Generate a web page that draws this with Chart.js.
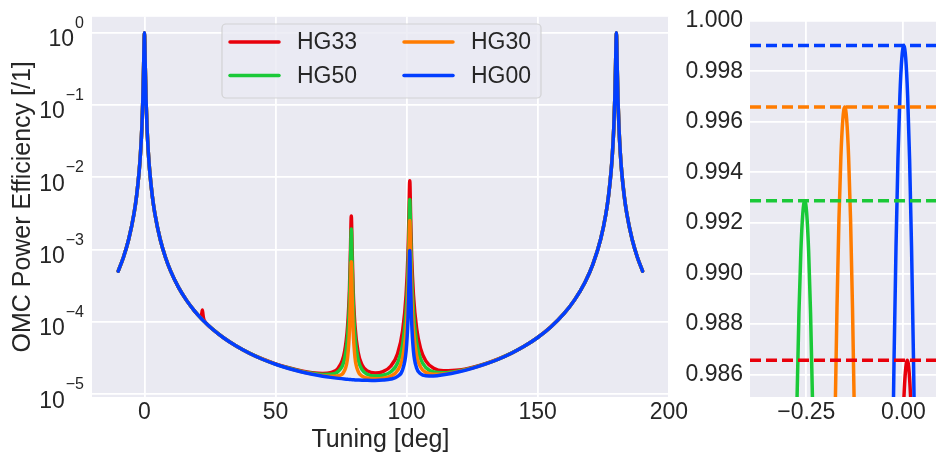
<!DOCTYPE html>
<html>
<head>
<meta charset="utf-8">
<script src="https://cdn.jsdelivr.net/npm/chart.js@4/dist/chart.umd.min.js"></script>
<style>
  html, body { margin: 0; padding: 0; background: #ffffff; width: 936px; height: 457px; overflow: hidden; }
  #wide { position: absolute; left: 0; top: 0; }
  #zoom { position: absolute; left: 680px; top: 0; }
</style>
</head>
<body>
<canvas id="wide" width="690" height="457"></canvas>
<canvas id="zoom" width="256" height="457"></canvas>
<script>
// ---- series ----
const seriesNames  = ['HG33', 'HG50', 'HG30', 'HG00'];
const seriesColors = ['#E8000B', '#1AC938', '#FF7C00', '#023EFF'];
// peak OMC power efficiency of each mode (dashed reference lines in the zoom panel)
const peakEfficiency = [0.98656, 0.99288, 0.99659, 0.99902];

// ---- full tuning scan [deg] ----
const tuning = [
  -10, -8, -6, -4, -3, -2, -1.5, -1, -0.6, -0.3, -0.15, 0, 0.15, 0.3, 0.6, 1, 1.5, 2, 3, 4, 6, 8, 10, 13, 16, 19,
  21, 21.6, 21.85, 22.1, 22.35, 22.6, 23.5,
  26, 30, 35, 40, 45, 50, 55, 60,
  64, 68, 71, 74, 76.3, 77.5, 78.2, 78.6, 78.9, 79.2, 79.6, 80.3, 81.5, 83, 85, 88, 91, 94, 96.5, 98.5,
  99.8, 100.5, 100.9, 101.2, 101.5, 101.9, 102.6, 103.8, 105.3, 107.3, 110.3, 114,
  120, 125, 130,
  135, 140, 145, 150, 155, 160, 164, 168, 171, 174, 176, 177, 178, 178.5, 179, 179.4, 179.7, 179.85,
  180, 180.15, 180.3, 180.6, 181, 181.5, 182, 183, 184, 186, 188, 190
];

const effHG33 = [
  5.02e-4, 7.82e-4, 1.385e-3, 3.104e-3, 5.50e-3, 1.229e-2, 2.164e-2, 4.74e-2, 0.1214, 0.356, 0.689, 0.9866, 0.689, 0.356, 0.1214, 4.74e-2, 2.164e-2, 1.229e-2, 5.50e-3, 3.104e-3, 1.385e-3, 7.82e-4, 5.02e-4, 2.993e-4, 1.994e-4, 1.429e-4,
  1.197e-4, 1.189e-4, 1.284e-4, 1.45e-4, 1.238e-4, 1.097e-4, 9.64e-5,
  7.9e-5, 6.08e-5, 4.63e-5, 3.69e-5, 3.06e-5, 2.62e-5, 2.31e-5, 2.09e-5,
  1.979e-5, 1.930e-5, 1.980e-5, 2.306e-5, 3.80e-5, 8.85e-5, 2.84e-4, 1.049e-3, 2.917e-3, 1.049e-3, 2.841e-4, 8.85e-5, 3.79e-5, 2.533e-5, 2.089e-5, 1.951e-5, 2.046e-5, 2.446e-5, 3.587e-5, 7.62e-5,
  2.36e-4, 8.37e-4, 3.184e-3, 8.916e-3, 3.185e-3, 8.37e-4, 2.365e-4, 8.14e-5, 4.28e-5, 2.874e-5, 2.276e-5, 2.103e-5,
  2.15e-5, 2.34e-5, 2.64e-5,
  3.07e-5, 3.69e-5, 4.62e-5, 6.07e-5, 8.49e-5, 1.295e-4, 1.994e-4, 3.504e-4, 6.19e-4, 1.385e-3, 3.104e-3, 5.50e-3, 1.229e-2, 2.164e-2, 4.74e-2, 0.1214, 0.356, 0.689,
  0.9866, 0.689, 0.356, 0.1214, 4.74e-2, 2.164e-2, 1.229e-2, 5.50e-3, 3.104e-3, 1.385e-3, 7.82e-4, 5.02e-4
];

const effHG50 = [
  5.02e-4, 7.82e-4, 1.385e-3, 3.104e-3, 5.50e-3, 1.229e-2, 2.164e-2, 4.74e-2, 0.1214, 0.356, 0.689, 0.9929, 0.689, 0.356, 0.1214, 4.74e-2, 2.164e-2, 1.229e-2, 5.50e-3, 3.104e-3, 1.385e-3, 7.82e-4, 5.02e-4, 2.993e-4, 1.994e-4, 1.429e-4,
  1.180e-4, 1.118e-4, 1.094e-4, 1.070e-4, 1.048e-4, 1.026e-4, 9.53e-5,
  7.89e-5, 6.07e-5, 4.62e-5, 3.68e-5, 3.045e-5, 2.60e-5, 2.29e-5, 2.06e-5,
  1.940e-5, 1.867e-5, 1.876e-5, 2.070e-5, 3.036e-5, 6.34e-5, 1.915e-4, 6.93e-4, 1.916e-3, 6.93e-4, 1.914e-4, 6.32e-5, 3.003e-5, 2.175e-5, 1.877e-5, 1.774e-5, 1.819e-5, 2.037e-5, 2.669e-5, 4.897e-5,
  1.371e-4, 4.677e-4, 1.760e-3, 4.916e-3, 1.760e-3, 4.678e-4, 1.374e-4, 5.205e-5, 3.092e-5, 2.332e-5, 2.029e-5, 1.975e-5,
  2.09e-5, 2.30e-5, 2.61e-5,
  3.05e-5, 3.68e-5, 4.61e-5, 6.06e-5, 8.48e-5, 1.295e-4, 1.994e-4, 3.504e-4, 6.19e-4, 1.385e-3, 3.104e-3, 5.50e-3, 1.229e-2, 2.164e-2, 4.74e-2, 0.1214, 0.356, 0.689,
  0.9929, 0.689, 0.356, 0.1214, 4.74e-2, 2.164e-2, 1.229e-2, 5.50e-3, 3.104e-3, 1.385e-3, 7.82e-4, 5.02e-4
];

const effHG30 = [
  5.02e-4, 7.82e-4, 1.385e-3, 3.104e-3, 5.50e-3, 1.229e-2, 2.164e-2, 4.74e-2, 0.1214, 0.356, 0.689, 0.9966, 0.689, 0.356, 0.1214, 4.74e-2, 2.164e-2, 1.229e-2, 5.50e-3, 3.104e-3, 1.385e-3, 7.82e-4, 5.02e-4, 2.993e-4, 1.994e-4, 1.429e-4,
  1.180e-4, 1.118e-4, 1.094e-4, 1.070e-4, 1.048e-4, 1.026e-4, 9.53e-5,
  7.88e-5, 6.06e-5, 4.61e-5, 3.67e-5, 3.035e-5, 2.59e-5, 2.27e-5, 2.03e-5,
  1.902e-5, 1.803e-5, 1.763e-5, 1.795e-5, 2.108e-5, 3.247e-5, 7.69e-5, 2.510e-4, 6.76e-4, 2.510e-4, 7.68e-5, 3.223e-5, 2.064e-5, 1.772e-5, 1.664e-5, 1.630e-5, 1.660e-5, 1.779e-5, 2.109e-5, 3.253e-5,
  7.758e-5, 2.462e-4, 9.058e-4, 2.516e-3, 9.058e-4, 2.464e-4, 7.787e-5, 3.441e-5, 2.373e-5, 2.001e-5, 1.877e-5, 1.895e-5,
  2.06e-5, 2.28e-5, 2.60e-5,
  3.04e-5, 3.67e-5, 4.605e-5, 6.06e-5, 8.48e-5, 1.295e-4, 1.994e-4, 3.504e-4, 6.19e-4, 1.385e-3, 3.104e-3, 5.50e-3, 1.229e-2, 2.164e-2, 4.74e-2, 0.1214, 0.356, 0.689,
  0.9966, 0.689, 0.356, 0.1214, 4.74e-2, 2.164e-2, 1.229e-2, 5.50e-3, 3.104e-3, 1.385e-3, 7.82e-4, 5.02e-4
];

const effHG00 = [
  5.02e-4, 7.82e-4, 1.385e-3, 3.104e-3, 5.50e-3, 1.229e-2, 2.164e-2, 4.74e-2, 0.1214, 0.356, 0.689, 0.999, 0.689, 0.356, 0.1214, 4.74e-2, 2.164e-2, 1.229e-2, 5.50e-3, 3.104e-3, 1.385e-3, 7.82e-4, 5.02e-4, 2.993e-4, 1.994e-4, 1.429e-4,
  1.180e-4, 1.118e-4, 1.094e-4, 1.070e-4, 1.048e-4, 1.026e-4, 9.53e-5,
  7.88e-5, 6.06e-5, 4.605e-5, 3.667e-5, 3.030e-5, 2.582e-5, 2.258e-5, 2.020e-5,
  1.880e-5, 1.767e-5, 1.701e-5, 1.647e-5, 1.613e-5, 1.599e-5, 1.590e-5, 1.587e-5, 1.583e-5, 1.580e-5, 1.577e-5, 1.570e-5, 1.562e-5, 1.553e-5, 1.546e-5, 1.545e-5, 1.562e-5, 1.615e-5, 1.749e-5, 2.193e-5,
  3.911e-5, 1.033e-4, 3.539e-4, 9.657e-4, 3.540e-4, 1.034e-4, 3.942e-5, 2.301e-5, 1.910e-5, 1.789e-5, 1.779e-5, 1.844e-5,
  2.03e-5, 2.27e-5, 2.59e-5,
  3.030e-5, 3.667e-5, 4.605e-5, 6.06e-5, 8.48e-5, 1.295e-4, 1.994e-4, 3.504e-4, 6.19e-4, 1.385e-3, 3.104e-3, 5.50e-3, 1.229e-2, 2.164e-2, 4.74e-2, 0.1214, 0.356, 0.689,
  0.999, 0.689, 0.356, 0.1214, 4.74e-2, 2.164e-2, 1.229e-2, 5.50e-3, 3.104e-3, 1.385e-3, 7.82e-4, 5.02e-4
];

// ---- close-up of the fundamental resonance ----
const zoomTuningHG33 = [-0.010, -0.005, 0.000, 0.005, 0.010, 0.015, 0.020, 0.025, 0.030];
const zoomEffHG33    = [0.97869, 0.98212, 0.98458, 0.98606, 0.98656, 0.98606, 0.98458, 0.98212, 0.97869];

const zoomTuningHG50 = [-0.284, -0.279, -0.274, -0.269, -0.264, -0.259, -0.254, -0.249, -0.244, -0.239, -0.234, -0.229, -0.224];
const zoomEffHG50    = [0.97524, 0.98057, 0.98496, 0.98841, 0.99089, 0.99238, 0.99288, 0.99238, 0.99089, 0.98841, 0.98496, 0.98057, 0.97524];

const zoomTuningHG30 = [-0.186, -0.181, -0.176, -0.171, -0.166, -0.161, -0.156, -0.151, -0.146, -0.141, -0.136, -0.131, -0.126, -0.121, -0.116];
const zoomEffHG30    = [0.97263, 0.97888, 0.98423, 0.98862, 0.99211, 0.99459, 0.99609, 0.99659, 0.99609, 0.99459, 0.99211, 0.98862, 0.98423, 0.97888, 0.97263];

const zoomTuningHG00 = [-0.034, -0.029, -0.024, -0.019, -0.014, -0.009, -0.004, 0.001, 0.006, 0.011, 0.016, 0.021, 0.026, 0.031, 0.036];
const zoomEffHG00    = [0.97500, 0.98126, 0.98663, 0.99105, 0.99452, 0.99702, 0.99852, 0.99902, 0.99852, 0.99702, 0.99452, 0.99105, 0.98663, 0.98126, 0.97500];

// ---- ticks ----
const wideTicksX = [0, 50, 100, 150, 200];
const wideTicksY = [1e-5, 1e-4, 1e-3, 1e-2, 1e-1, 1];
const zoomTicksX = [-0.25, 0];
const zoomTicksY = [0.986, 0.988, 0.990, 0.992, 0.994, 0.996, 0.998, 1.000];

// ---- axis limits ----
const wideRangeX = [-20, 200];
const wideRangeY = [9.1e-6, 1.66];
const zoomRangeX = [-0.395, 0.084];
const zoomRangeY = [0.98511, 1.0];

// ---- styling ----
const FONT = "'Liberation Sans', Arial, sans-serif";
const INK = '#262626';
const PANEL_BG = '#EAEAF2';
const LINE_W = 3.5;

const wideSeries = [effHG33, effHG50, effHG30, effHG00];
const zoomSeries = [
  [zoomTuningHG33, zoomEffHG33],
  [zoomTuningHG50, zoomEffHG50],
  [zoomTuningHG30, zoomEffHG30],
  [zoomTuningHG00, zoomEffHG00]
];

const axesBackground = {
  id: 'axesBackground',
  beforeDraw(chart) {
    const { ctx, chartArea: a } = chart;
    ctx.save();
    ctx.fillStyle = PANEL_BG;
    ctx.fillRect(a.left, a.top, a.right - a.left, a.bottom - a.top);
    ctx.restore();
  }
};

// powers of ten on the log axis, written as 10 with a raised exponent
const decadeLabels = {
  id: 'decadeLabels',
  afterDraw(chart) {
    const ctx = chart.ctx, s = chart.scales.y;
    ctx.save();
    ctx.fillStyle = INK;
    ctx.textAlign = 'right';
    ctx.textBaseline = 'alphabetic';
    wideTicksY.forEach(v => {
      const y = s.getPixelForValue(v);
      const p = Math.round(Math.log10(v));
      const sup = p === 0 ? '0' : '\u2212' + (-p);
      ctx.font = `16px ${FONT}`;
      const ws = ctx.measureText(sup).width;
      ctx.fillText(sup, 84, y - 5);
      ctx.font = `23px ${FONT}`;
      ctx.fillText('10', 84 - ws - 1, y + 13.5);
    });
    ctx.restore();
  }
};

const axisTitles = {
  id: 'axisTitles',
  afterDraw(chart) {
    const { ctx, chartArea: a } = chart;
    ctx.save();
    ctx.fillStyle = INK;
    ctx.font = `25px ${FONT}`;
    ctx.textAlign = 'center';
    ctx.textBaseline = 'alphabetic';
    ctx.fillText('Tuning [deg]', (a.left + a.right) / 2, 447);
    ctx.translate(30, (a.top + a.bottom) / 2);
    ctx.rotate(-Math.PI / 2);
    ctx.fillText('OMC Power Efficiency [/1]', 0, 0);
    ctx.restore();
  }
};

// two-column legend box inside the scan panel
const legendBox = {
  id: 'legendBox',
  afterDraw(chart) {
    const ctx = chart.ctx;
    const box = { x: 222, y: 24, w: 319, h: 74, r: 4 };
    ctx.save();
    ctx.beginPath();
    ctx.roundRect(box.x, box.y, box.w, box.h, box.r);
    ctx.fillStyle = 'rgba(234,234,242,0.8)';
    ctx.fill();
    ctx.lineWidth = 1.2;
    ctx.strokeStyle = 'rgba(204,204,204,0.8)';
    ctx.stroke();
    const cols = [230, 404];
    const rows = [42, 75.5];
    ctx.font = `23px ${FONT}`;
    ctx.textBaseline = 'middle';
    ctx.textAlign = 'left';
    seriesNames.forEach((name, i) => {
      const cx = cols[Math.floor(i / 2)], cy = rows[i % 2];
      ctx.strokeStyle = seriesColors[i];
      ctx.lineWidth = LINE_W;
      ctx.lineCap = 'round';
      ctx.beginPath();
      ctx.moveTo(cx, cy);
      ctx.lineTo(cx + 49, cy);
      ctx.stroke();
      ctx.fillStyle = INK;
      ctx.fillText(name, cx + 67, cy + 1);
    });
    ctx.restore();
  }
};

const gridStyle = { color: '#ffffff', lineWidth: 1.8, drawTicks: false };
const tickFont = { family: FONT, size: 23 };

// draw order: HG00 on top, HG33 at the back
const drawOrder = [4, 3, 2, 1];

// monotone interpolation keeps every stroke on the regular path renderer,
// so the sharp resonances are drawn as one continuous line
const curveStyle = (i) => ({
  borderColor: seriesColors[i],
  borderWidth: LINE_W,
  pointRadius: 0,
  cubicInterpolationMode: 'monotone',
  fill: false,
  borderJoinStyle: 'round',
  borderCapStyle: 'round',
  order: drawOrder[i]
});

new Chart(document.getElementById('wide'), {
  type: 'line',
  data: {
    datasets: seriesNames.map((name, i) => Object.assign({
      label: name,
      data: tuning.map((t, k) => ({ x: t, y: wideSeries[i][k] }))
    }, curveStyle(i)))
  },
  options: {
    responsive: false,
    animation: false,
    devicePixelRatio: 1,
    layout: { padding: { left: 0, right: 20, top: 14, bottom: 0 } },
    plugins: { legend: { display: false }, tooltip: { enabled: false } },
    scales: {
      x: {
        type: 'linear', min: wideRangeX[0], max: wideRangeX[1],
        afterBuildTicks: s => { s.ticks = wideTicksX.map(v => ({ value: v })); },
        afterFit: s => { s.height = 60; },
        grid: gridStyle, border: { display: false },
        ticks: { font: tickFont, color: INK, padding: 2, maxRotation: 0, autoSkip: false, callback: v => String(v) }
      },
      y: {
        type: 'logarithmic', min: wideRangeY[0], max: wideRangeY[1],
        afterBuildTicks: s => { s.ticks = wideTicksY.map(v => ({ value: v })); },
        afterFit: s => { s.width = 92; },
        grid: gridStyle, border: { display: false },
        ticks: { font: tickFont, color: INK, autoSkip: false, callback: () => '' }
      }
    }
  },
  plugins: [axesBackground, decadeLabels, axisTitles, legendBox]
});

const zoomLines = seriesNames.map((name, i) => ({
  label: name + ' peak',
  data: zoomRangeX.map(x => ({ x: x, y: peakEfficiency[i] })),
  borderColor: seriesColors[i],
  borderWidth: LINE_W,
  borderDash: [11, 5],
  pointRadius: 0,
  fill: false,
  order: 0
}));

new Chart(document.getElementById('zoom'), {
  type: 'line',
  data: {
    datasets: seriesNames.map((name, i) => Object.assign({
      label: name,
      data: zoomSeries[i][0].map((t, k) => ({ x: t, y: zoomSeries[i][1][k] }))
    }, curveStyle(i))).concat(zoomLines)
  },
  options: {
    responsive: false,
    animation: false,
    devicePixelRatio: 1,
    layout: { padding: { left: 0, right: 0, top: 14, bottom: 0 } },
    plugins: { legend: { display: false }, tooltip: { enabled: false } },
    scales: {
      x: {
        type: 'linear', min: zoomRangeX[0], max: zoomRangeX[1],
        afterBuildTicks: s => { s.ticks = zoomTicksX.map(v => ({ value: v })); },
        afterFit: s => { s.height = 60; },
        grid: gridStyle, border: { display: false },
        ticks: { font: tickFont, color: INK, padding: 2, maxRotation: 0, autoSkip: false,
                 callback: v => (v < 0 ? '\u2212' : '') + Math.abs(v).toFixed(2) }
      },
      y: {
        type: 'linear', min: zoomRangeY[0], max: zoomRangeY[1],
        afterBuildTicks: s => { s.ticks = zoomTicksY.map(v => ({ value: v })); },
        afterFit: s => { s.width = 70; },
        grid: gridStyle, border: { display: false },
        ticks: { font: tickFont, color: INK, padding: 7, autoSkip: false, callback: v => v.toFixed(3) }
      }
    }
  },
  plugins: [axesBackground]
});
</script>
</body>
</html>
